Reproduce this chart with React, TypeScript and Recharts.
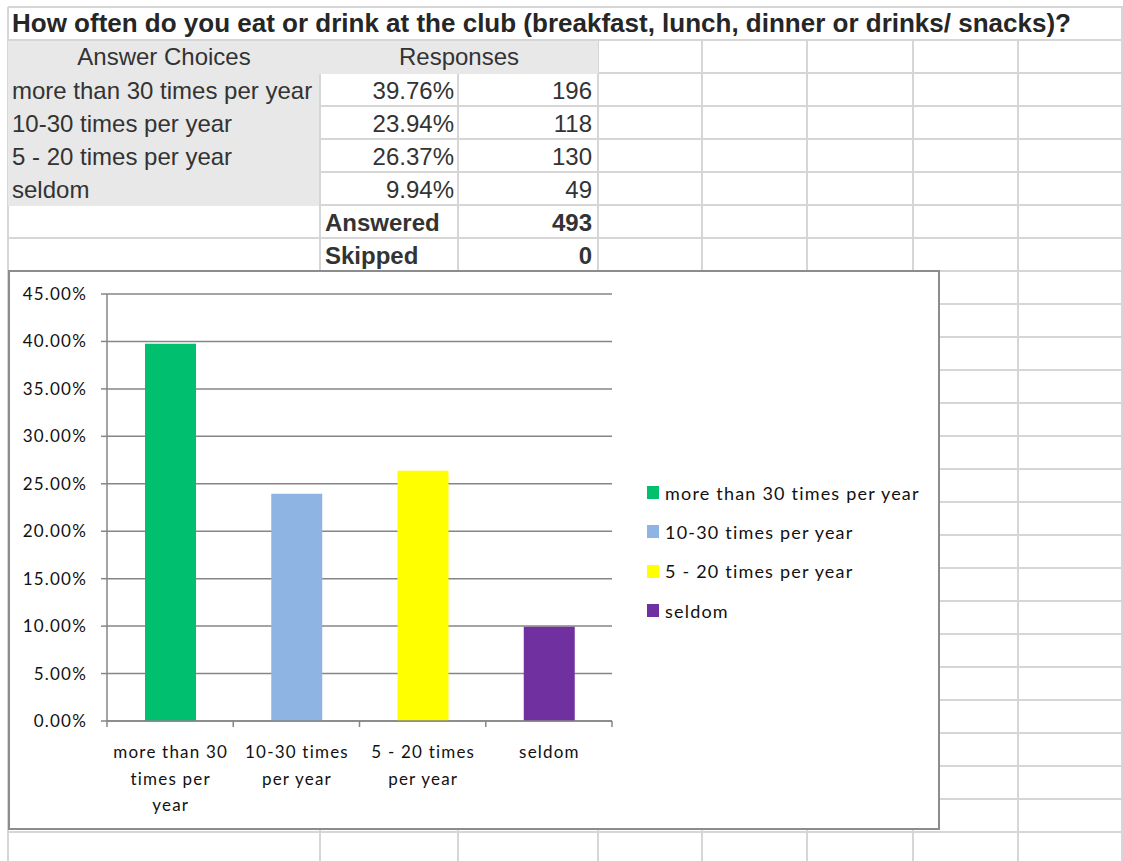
import React from 'react';
import { Bar, BarChart, CartesianGrid, Cell, Legend, XAxis, YAxis } from 'recharts';

const title = 'How often do you eat or drink at the club (breakfast, lunch, dinner or drinks/ snacks)?';
const categories = ['more than 30 times per year', '10-30 times per year', '5 - 20 times per year', 'seldom'];
const percents = [39.76, 23.94, 26.37, 9.94];
const counts = [196, 118, 130, 49];
const answered = 493;
const skipped = 0;
const axisLabelLines = [['more than 30', 'times per', 'year'], ['10-30 times', 'per year'], ['5 - 20 times', 'per year'], ['seldom']];
const yTicks = [0, 5, 10, 15, 20, 25, 30, 35, 40, 45];
const barColors = ['#00BF6F', '#8EB4E3', '#FFFF00', '#7030A0'];

const chartData = categories.map((name, i) => ({ name, value: percents[i] }));

// sheet geometry
const colX = [8, 320, 458, 598, 702, 807, 913, 1018, 1122];
const rowY = Array.from({ length: 26 }, (_, k) => 7 + 33 * k);
const GRID = '#d6d6d6';
const AXIS = '#868686';
const CHART_W = 932;
const CHART_H = 560;
const PLOT_W = 505;
const BAND = PLOT_W / categories.length;
const LEGEND_W = 290;
const SPACING = 1.2;

const XTick = (props: any) => {
  const { x, y, index } = props;
  const lines = axisLabelLines[index] ?? [];
  return (
    <g>
      <line x1={x - BAND / 2} x2={x - BAND / 2} y1={y} y2={y + 6} stroke={AXIS} strokeWidth={1.5} />
      {index === categories.length - 1 && (
        <line x1={x + BAND / 2} x2={x + BAND / 2} y1={y} y2={y + 6} stroke={AXIS} strokeWidth={1.5} />
      )}
      <text x={x} y={y} textAnchor="middle" fill="#111" fontSize={17} style={{ letterSpacing: SPACING }}>
        {lines.map((l, i) => (
          <tspan key={i} x={x + SPACING / 2} y={y + 37 + i * 26.5}>
            {l}
          </tspan>
        ))}
      </text>
    </g>
  );
};

const LegendContent = () => (
  <div style={{ fontSize: 18, color: '#111', letterSpacing: SPACING }}>
    {categories.map((c, i) => (
      <div key={c} style={{ display: 'flex', alignItems: 'center', height: 39.3 }}>
        <span style={{ width: 12, height: 13, background: barColors[i], marginRight: 6, flex: 'none' }} />
        <span style={{ whiteSpace: 'nowrap' }}>{c}</span>
      </div>
    ))}
  </div>
);

const cell = (left: number, top: number, width: number, text: React.ReactNode, align: 'left' | 'center' | 'right', bold = false) => (
  <div
    style={{
      position: 'absolute',
      left,
      top,
      width,
      height: 33,
      display: 'flex',
      alignItems: 'center',
      justifyContent: align === 'left' ? 'flex-start' : align === 'right' ? 'flex-end' : 'center',
      fontWeight: bold ? 700 : 400,
      whiteSpace: 'nowrap'
    }}
  >
    {text}
  </div>
);

export default function App() {
  return (
    <div
      style={{
        position: 'absolute',
        left: 0,
        top: 0,
        width: 1123,
        height: 861,
        background: '#fff',
        overflow: 'hidden',
        fontFamily: '"Liberation Sans", Arial, sans-serif',
        fontSize: 24,
        color: '#333'
      }}
    >
      {/* sheet gridlines */}
      {rowY.map((y) => (
        <div key={'h' + y} style={{ position: 'absolute', left: 8, top: y - 1, width: 1115, height: 2, background: GRID }} />
      ))}
      {colX.map((x) => (
        <div
          key={'v' + x}
          style={{ position: 'absolute', left: x - 1, top: x === 8 || x === 1122 ? 7 : 40, width: 2, height: 861, background: GRID }}
        />
      ))}
      {/* grey header area */}
      <div style={{ position: 'absolute', left: 8, top: 41, width: 590, height: 33, background: '#e8e8e8' }} />
      <div style={{ position: 'absolute', left: 8, top: 74, width: 311, height: 132, background: '#e8e8e8' }} />

      <div style={{ fontSize: 26, color: '#262626' }}>{cell(12, 7, 1105, title, 'left', true)}</div>
      {cell(8, 40, 312, 'Answer Choices', 'center')}
      {cell(320, 40, 278, 'Responses', 'center')}
      {categories.map((c, i) => (
        <React.Fragment key={c}>
          {cell(12, 74 + i * 33, 300, c, 'left')}
          {cell(320, 74 + i * 33, 134, percents[i].toFixed(2) + '%', 'right')}
          {cell(458, 74 + i * 33, 134, String(counts[i]), 'right')}
        </React.Fragment>
      ))}
      {cell(325, 206, 130, 'Answered', 'left', true)}
      {cell(458, 206, 134, String(answered), 'right', true)}
      {cell(325, 239, 130, 'Skipped', 'left', true)}
      {cell(458, 239, 134, String(skipped), 'right', true)}

      {/* chart object */}
      <div
        style={{
          position: 'absolute',
          left: 8,
          top: 270,
          width: CHART_W,
          height: CHART_H,
          background: '#fff',
          fontFamily: 'Lato, "Open Sans", sans-serif'
        }}
      >
        <BarChart
          width={CHART_W}
          height={CHART_H}
          data={chartData}
          margin={{ top: 24, right: CHART_W - 99 - PLOT_W - LEGEND_W, bottom: 0, left: 0 }}
        >
          <CartesianGrid vertical={false} stroke={AXIS} strokeWidth={1.5} />
          <XAxis
            dataKey="name"
            height={109}
            interval={0}
            tickLine={false}
            tickSize={0}
            tickMargin={0}
            axisLine={{ stroke: AXIS, strokeWidth: 1.5 }}
            tick={<XTick />}
          />
          <YAxis
            width={99}
            domain={[0, 45]}
            ticks={yTicks}
            tickSize={6}
            tickMargin={14}
            tickFormatter={(v: number) => v.toFixed(2) + '%'}
            axisLine={{ stroke: AXIS, strokeWidth: 1.5 }}
            tickLine={{ stroke: AXIS, strokeWidth: 1.5 }}
            tick={{ fill: '#111', fontSize: 17, style: { letterSpacing: SPACING } }}
          />
          <Legend
            layout="vertical"
            align="right"
            verticalAlign="middle"
            content={<LegendContent />}
            wrapperStyle={{ left: 639, top: 203, width: LEGEND_W }}
          />
          <Bar dataKey="value" barSize={51} isAnimationActive={false}>
            {chartData.map((d, i) => (
              <Cell key={d.name} fill={barColors[i]} />
            ))}
          </Bar>
        </BarChart>
      </div>
      <div
        style={{
          position: 'absolute',
          left: 8,
          top: 270,
          width: CHART_W,
          height: CHART_H,
          border: '2px solid #8c8c8c',
          boxSizing: 'border-box',
          pointerEvents: 'none'
        }}
      />
    </div>
  );
}
